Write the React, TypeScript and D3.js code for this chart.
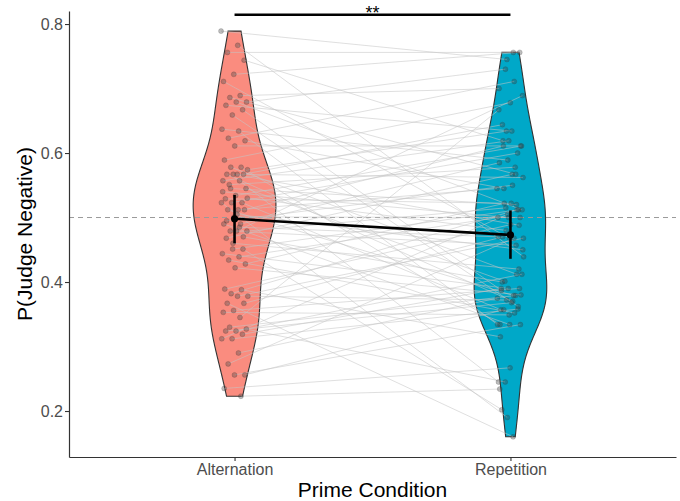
import { useEffect, useRef } from 'react';
import * as d3 from 'd3';

const conditions = ['Alternation', 'Repetition'];

// P(judge negative) per participant, paired by index
const alternation = [
    0.789, 0.767, 0.756, 0.744, 0.722, 0.711, 0.689, 0.686, 0.679, 0.679, 0.674, 0.667, 0.659, 0.637, 0.634, 0.623, 0.619, 0.611,
    0.589, 0.578, 0.578, 0.574, 0.567, 0.567, 0.567, 0.567, 0.557, 0.557, 0.551, 0.545, 0.534, 0.529, 0.523, 0.523, 0.523, 0.512, 0.512, 0.512, 0.501,
    0.490, 0.490, 0.479, 0.479, 0.479, 0.468, 0.451, 0.451, 0.444, 0.439, 0.434, 0.428, 0.422,
    0.389, 0.388, 0.382, 0.378, 0.378, 0.367, 0.367, 0.356, 0.353, 0.345, 0.330, 0.327, 0.324, 0.324, 0.319, 0.312, 0.312, 0.290, 0.273, 0.256, 0.256, 0.235, 0.223,
    0.545, 0.530, 0.505, 0.495, 0.470, 0.460, 0.540, 0.485
];
const repetition = [
    0.745, 0.439, 0.756, 0.619, 0.756, 0.468, 0.700, 0.567, 0.730, 0.512, 0.634, 0.387, 0.362, 0.589, 0.334, 0.711, 0.545, 0.611,
    0.678, 0.334, 0.412, 0.634, 0.562, 0.370, 0.644, 0.488, 0.619, 0.245, 0.578, 0.401, 0.611, 0.522, 0.357, 0.600, 0.190, 0.545, 0.379, 0.611, 0.500,
    0.334, 0.585, 0.457, 0.515, 0.689, 0.567, 0.202, 0.512, 0.390, 0.500, 0.352, 0.522, 0.380,
    0.489, 0.315, 0.512, 0.372, 0.468, 0.160, 0.470, 0.390, 0.349, 0.667, 0.379, 0.245, 0.412, 0.368, 0.390, 0.358, 0.505, 0.375, 0.468, 0.357, 0.334, 0.267, 0.234,
    0.520, 0.480, 0.450, 0.550, 0.400, 0.420, 0.500, 0.470
];

// condition means with 95% CI
const condMeans = [0.498, 0.473];
const ciLow = [0.460, 0.436];
const ciHigh = [0.535, 0.511];

const yTicks = [0.2, 0.4, 0.6, 0.8];
const chanceLevel = 0.5;
const sigLevel = 0.8144;
const sigLabel = '**';
const fills = ['#FA8C7F', '#00A8C8'];

const FONT = '"Liberation Sans", Arial, sans-serif';

const App = () => {
    const svgRef = useRef(null);

    useEffect(() => {
        const svg = d3.select(svgRef.current);
        svg.selectAll('*').remove();

        const panel = { left: 69, right: 676, top: 11, bottom: 457 };

        const x = d3.scalePoint().domain(conditions).range([panel.left, panel.right]).padding(0.6);
        const y = d3.scaleLinear().domain([0.1287, 0.8202]).range([panel.bottom, panel.top]);
        const groups = [alternation, repetition];

        // gaussian kde, bandwidth like R's nrd0, trimmed to data range
        const kde = (vals) => {
            const s = vals.slice().sort(d3.ascending);
            const n = s.length;
            const sd = d3.deviation(s);
            const iqr = d3.quantile(s, 0.75) - d3.quantile(s, 0.25);
            const bw = 0.9 * Math.min(sd, iqr / 1.34) * Math.pow(n, -0.2);
            const lo = s[0], hi = s[n - 1];
            return d3.range(200).map(i => {
                const v = lo + (hi - lo) * i / 199;
                const d = d3.mean(s, xi => Math.exp(-0.5 * ((v - xi) / bw) ** 2)) / (bw * Math.sqrt(2 * Math.PI));
                return [v, d];
            });
        };
        const dens = groups.map(kde);
        const maxD = d3.max(dens, g => d3.max(g, d => d[1]));
        const halfW = d3.scaleLinear().domain([0, maxD]).range([0, x.step() * 0.15]);

        // violins
        dens.forEach((g, k) => {
            const cx = x(conditions[k]);
            const area = d3.area()
                .y(d => y(d[0]))
                .x0(d => cx - halfW(d[1]))
                .x1(d => cx + halfW(d[1]));
            svg.append('path')
                .attr('d', area(g))
                .attr('fill', fills[k])
                .attr('stroke', '#333')
                .attr('stroke-width', 1.1);
        });

        // chance line
        svg.append('line')
            .attr('x1', panel.left).attr('x2', panel.right)
            .attr('y1', y(chanceLevel)).attr('y2', y(chanceLevel))
            .attr('stroke', '#9a9a9a')
            .attr('stroke-width', 1)
            .attr('stroke-dasharray', '5,4');

        // deterministic jitter
        const jitter = (i, k) => (((i * 0.618034 + k * 0.37) % 1) - 0.5) * 27;
        const px = (k, i) => x(conditions[k]) + jitter(i, k);

        // participant lines
        svg.append('g')
            .selectAll('line')
            .data(alternation)
            .enter()
            .append('line')
            .attr('x1', (d, i) => px(0, i))
            .attr('y1', d => y(d))
            .attr('x2', (d, i) => px(1, i))
            .attr('y2', (d, i) => y(repetition[i]))
            .attr('stroke', '#c4c4c4')
            .attr('stroke-opacity', 0.55)
            .attr('stroke-width', 1);

        // points
        groups.forEach((vals, k) => {
            svg.append('g')
                .selectAll('circle')
                .data(vals)
                .enter()
                .append('circle')
                .attr('cx', (d, i) => px(k, i))
                .attr('cy', d => y(d))
                .attr('r', 2.5)
                .attr('fill', '#3a3a3a')
                .attr('fill-opacity', 0.33)
                .attr('stroke', '#3a3a3a')
                .attr('stroke-opacity', 0.35)
                .attr('stroke-width', 0.6);
        });

        // mean line, error bars, mean points
        svg.append('path')
            .attr('d', d3.line()(conditions.map((c, k) => [x(c), y(condMeans[k])])))
            .attr('stroke', 'black')
            .attr('stroke-width', 2.6)
            .attr('fill', 'none');
        conditions.forEach((c, k) => {
            svg.append('line')
                .attr('x1', x(c)).attr('x2', x(c))
                .attr('y1', y(ciLow[k])).attr('y2', y(ciHigh[k]))
                .attr('stroke', 'black')
                .attr('stroke-width', 2.6);
            svg.append('circle')
                .attr('cx', x(c)).attr('cy', y(condMeans[k]))
                .attr('r', 3.6)
                .attr('fill', 'black');
        });

        // significance bracket
        svg.append('text')
            .attr('x', (x(conditions[0]) + x(conditions[1])) / 2)
            .attr('y', y(sigLevel) + 4)
            .attr('text-anchor', 'middle')
            .style('font-family', FONT)
            .style('font-size', '18px')
            .style('fill', 'black')
            .text(sigLabel);
        svg.append('line')
            .attr('x1', x(conditions[0])).attr('x2', x(conditions[1]))
            .attr('y1', y(sigLevel)).attr('y2', y(sigLevel))
            .attr('stroke', 'black')
            .attr('stroke-width', 2.4);

        // axes
        const yAxis = svg.append('g')
            .attr('transform', `translate(${panel.left},0)`)
            .call(d3.axisLeft(y).tickValues(yTicks).tickFormat(d3.format('.1f')).tickSize(4).tickSizeOuter(0).tickPadding(2));
        const xAxis = svg.append('g')
            .attr('transform', `translate(0,${panel.bottom})`)
            .call(d3.axisBottom(x).tickSize(4).tickSizeOuter(0).tickPadding(2.5));
        [yAxis, xAxis].forEach(a => {
            a.select('.domain').attr('stroke', '#333').attr('stroke-width', 1.2);
            a.selectAll('.tick line').attr('stroke', '#333').attr('stroke-width', 1.1);
            a.selectAll('.tick text')
                .style('font-family', FONT)
                .style('font-size', '16px')
                .style('fill', '#4d4d4d');
        });

        // axis titles
        svg.append('text')
            .attr('x', (panel.left + panel.right) / 2)
            .attr('y', 497)
            .attr('text-anchor', 'middle')
            .style('font-family', FONT)
            .style('font-size', '21px')
            .style('fill', 'black')
            .text('Prime Condition');
        svg.append('text')
            .attr('transform', `translate(32,${(panel.top + panel.bottom) / 2}) rotate(-90)`)
            .attr('text-anchor', 'middle')
            .style('font-family', FONT)
            .style('font-size', '21px')
            .style('fill', 'black')
            .text('P(Judge Negative)');
    }, []);

    return (
        <svg
            ref={svgRef}
            width={680}
            height={501}
            style={{ position: 'absolute', left: 0, top: 0, background: 'white' }}
        />
    );
};

export default App;
